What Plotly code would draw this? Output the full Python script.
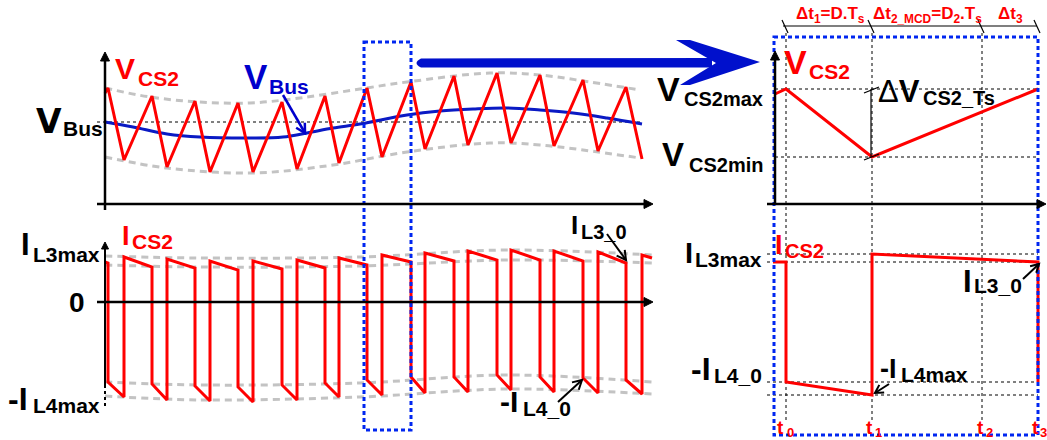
import math
import plotly.graph_objects as go

W, H = 1047, 440

# ---------------- long observation window (left panels) ----------------
# time in a.u. from the axis origin, capacitor voltage in V, current in A
t_peak   = [3, 47, 90, 133, 177, 220, 262, 306, 349, 392, 435, 478, 521]
t_valley = [19, 62, 105, 148, 192, 234, 277, 320, 363, 406, 449, 493, 537]
v_start  = 429
v_peak   = [434, 426, 421, 419, 420, 426, 434, 440, 446, 449, 447, 442, 435]
v_valley = [362, 355, 350, 350, 353, 359, 365, 373, 377, 379, 376, 371, 363]

t_bus = [0, 28, 62, 95, 148, 178, 202, 228, 255, 302, 335, 368, 402, 435, 468, 502, 537]
v_bus = [400, 395, 388, 385, 384, 385, 389, 394, 398, 407, 411, 413, 414, 412, 409, 404, 398]
v_bus_nom = 400

t_env_hi = [0, 45, 95, 145, 195, 255, 302, 385, 435, 485, 535]
v_env_hi = [434, 425, 420, 419, 424, 433, 440, 449, 447, 440, 432]
t_env_lo = [0, 62, 148, 228, 302, 385, 435, 535]
v_env_lo = [365, 354, 349, 357, 370, 379, 377, 364]

i_start    = 4.0
i_hi_end   = [3.9, 3.5, 3.4, 3.2, 3.3, 3.4, 3.7, 4.0, 4.1, 4.2, 4.2, 4.1, 3.9]
i_lo_start = [-8.0, -8.2, -8.4, -8.5, -8.3, -8.1, -7.8, -7.5, -7.5, -7.3, -7.5, -7.6, -7.8]
i_lo_end   = [-9.5, -9.8, -9.9, -10.0, -9.8, -9.5, -9.3, -9.1, -9.0, -8.8, -9.0, -9.1, -9.2]
i_hi_start = [4.5, 4.3, 4.1, 4.1, 4.2, 4.4, 4.7, 4.9, 5.1, 5.2, 5.1, 5.0, 4.7]
t_end, i_end = 547, 4.4

t_ienv    = [0, 95, 255, 402, 547]
i_env_hi1 = [4.6, 4.4, 4.5, 5.2, 4.7]
i_env_hi2 = [3.7, 3.5, 3.6, 4.2, 3.9]
i_env_lo1 = [-8.0, -8.3, -8.1, -7.3, -8.0]
i_env_lo2 = [-9.4, -9.8, -9.5, -8.7, -9.2]

# zoomed switching period
window = [259, 306]                 # one period picked out of the long window
t_marks = [0, 86, 196, 252]         # t0, t1, t2, t3
t_zoom_v = [-11, 0, 86, 252]
v_zoom   = [428, 433, 365, 433]
v_cs2_max, v_cs2_min = 433, 365
t_zoom_i = [-13, 0, 0, 86, 86, 252, 252]
i_zoom   = [4.0, 4.0, -8.0, -9.3, 4.8, 4.0, -8.0]
i_l3max, i_l3_0, i_l4_0, i_l4max = 4.8, 4.0, -8.0, -9.3

RED = "#ff0000"
BLUE_LINE = "#0a1ac4"
BLUE_TXT = "#0000cc"
BLUE_BOX = "#0026f0"
GRAY = "#c3c3c3"
ARIAL = "Liberation Sans, Arial, sans-serif"
DEJAVU = "DejaVu Sans, sans-serif"

# assemble the piecewise waveforms from the switching instants
vt, vv = [0], [v_start]
for tp, vp, tv, vl in zip(t_peak, v_peak, t_valley, v_valley):
    vt += [tp, tv]
    vv += [vp, vl]

it, iv = [0], [i_start]
for k in range(len(t_peak)):
    it += [t_peak[k], t_peak[k], t_valley[k], t_valley[k]]
    iv += [i_hi_end[k], i_lo_start[k], i_lo_end[k], i_hi_start[k]]
it.append(t_end)
iv.append(i_end)

fig = go.Figure()

def env(x, y, ya):
    fig.add_trace(go.Scatter(x=x, y=y, xaxis="x2", yaxis=ya, mode="lines",
                             line=dict(color=GRAY, width=3, dash="7px,5px", shape="spline"),
                             hoverinfo="skip"))

env(t_env_hi, v_env_hi, "y2")
env(t_env_lo, v_env_lo, "y2")
for e in (i_env_hi1, i_env_hi2, i_env_lo1, i_env_lo2):
    env(t_ienv, e, "y3")

fig.add_trace(go.Scatter(x=t_bus, y=v_bus, xaxis="x2", yaxis="y2", mode="lines",
                         line=dict(color=BLUE_LINE, width=3, shape="spline"), hoverinfo="skip"))
fig.add_trace(go.Scatter(x=vt, y=vv, xaxis="x2", yaxis="y2", mode="lines",
                         line=dict(color=RED, width=3), hoverinfo="skip"))
fig.add_trace(go.Scatter(x=it, y=iv, xaxis="x2", yaxis="y3", mode="lines",
                         line=dict(color=RED, width=3), hoverinfo="skip"))
fig.add_trace(go.Scatter(x=t_zoom_v, y=v_zoom, xaxis="x4", yaxis="y2", mode="lines",
                         line=dict(color=RED, width=3), hoverinfo="skip"))
fig.add_trace(go.Scatter(x=t_zoom_i, y=i_zoom, xaxis="x4", yaxis="y3", mode="lines",
                         line=dict(color=RED, width=3), hoverinfo="skip"))

shapes = []
DOT = dict(color="black", width=1, dash="dot")

# reference levels
shapes.append(dict(type="line", xref="x2", yref="y2", x0=-8, x1=535,
                   y0=v_bus_nom, y1=v_bus_nom, line=DOT, layer="below"))
for lv in (v_cs2_max, v_cs2_min):
    shapes.append(dict(type="line", xref="x4", yref="y2", x0=-11, x1=t_marks[3],
                       y0=lv, y1=lv, line=DOT, layer="below"))
for lv in (i_l3max, i_l3_0, i_l4_0, i_l4max):
    shapes.append(dict(type="line", xref="x4", yref="y3", x0=-19, x1=t_marks[3],
                       y0=lv, y1=lv, line=DOT, layer="below"))
for tm in t_marks[:3]:
    shapes.append(dict(type="line", xref="x4", yref="y", x0=tm, x1=tm,
                       y0=33, y1=422, line=DOT, layer="below"))

# lower part of the current axis
shapes.append(dict(type="line", xref="x", yref="y", x0=105, x1=105, y0=385, y1=408,
                   line=dict(color="black", width=2, dash="dot")))

# time-interval dimension line
shapes.append(dict(type="line", xref="x4", yref="y", x0=-3, x1=t_marks[3] - 1, y0=26, y1=26,
                   line=dict(color="black", width=1.2)))
for tm in t_marks:
    shapes.append(dict(type="line", xref="x4", yref="y", x0=tm - 4, x1=tm + 2, y0=20, y1=33,
                       line=dict(color="black", width=1.2)))

# ripple dimension
shapes.append(dict(type="line", xref="x4", yref="y2", x0=t_marks[1] - 1, x1=t_marks[1] - 1,
                   y0=v_cs2_min, y1=v_cs2_max, line=dict(color="black", width=1.2)))
for yv in (91, 158):
    shapes.append(dict(type="line", xref="x", yref="y", x0=864, x1=879, y0=yv + 2, y1=yv - 4,
                       line=dict(color="black", width=1.2)))

# selection boxes
BOX = dict(color=BLUE_BOX, width=3, dash="4px,3px")
shapes.append(dict(type="rect", xref="x2", yref="y", x0=window[0], x1=window[1],
                   y0=42, y1=430, line=BOX))
shapes.append(dict(type="rect", xref="x", yref="y", x0=774, x1=1038,
                   y0=37, y1=435, line=BOX))

# big zoom arrow
shapes.append(dict(type="path", xref="x", yref="y",
                   path="M 421,58.5 L 712,58 L 712,67.5 L 421,67.5 Q 412,63 421,58.5 Z",
                   fillcolor="#0010cc", line=dict(width=0)))
shapes.append(dict(type="path", xref="x", yref="y",
                   path="M 676,40 L 690,40 L 760,62 L 690,85 L 680,85 L 716,63 Z",
                   fillcolor="#0010cc", line=dict(width=0)))


def arrow(tip, tail, color="black", width=2.5, head=9, half=4.5, filled=True):
    """Straight arrow drawn in pixel coordinates: shaft plus filled or open head."""
    ux, uy = tip[0] - tail[0], tip[1] - tail[1]
    n = math.hypot(ux, uy)
    ux, uy = ux / n, uy / n
    bx, by = tip[0] - head * ux, tip[1] - head * uy
    px, py = -uy * half, ux * half
    end = (bx, by) if filled else tip
    shapes.append(dict(type="line", xref="x", yref="y", x0=tail[0], y0=tail[1],
                       x1=end[0], y1=end[1], line=dict(color=color, width=width)))
    if filled:
        shapes.append(dict(type="path", xref="x", yref="y",
                           path=f"M {tip[0]},{tip[1]} L {bx + px},{by + py} L {bx - px},{by - py} Z",
                           fillcolor=color, line=dict(color=color, width=1)))
    else:
        shapes.append(dict(type="path", xref="x", yref="y",
                           path=f"M {bx + px},{by + py} L {tip[0]},{tip[1]} L {bx - px},{by - py}",
                           line=dict(color=color, width=width)))


# axes
arrow((105, 52), (105, 210))
arrow((653, 204), (97, 204))
arrow((653, 302), (97, 302))
arrow((105, 242), (105, 386), width=2, head=7, half=3.5)
arrow((775, 51), (775, 204), width=2.5)
arrow((1046, 204), (767, 204))

# pointer arrows
arrow((305, 133), (283, 95), color=BLUE_TXT, width=2.5, head=9, half=5, filled=False)
arrow((626, 260), (607, 234), width=2, head=9, half=5, filled=False)
arrow((582, 380), (558, 402), width=2, head=9, half=5, filled=False)
arrow((1039, 264), (1023, 279), width=2, head=8, half=4.5, filled=False)
arrow((875, 393), (889, 384), width=2, head=8, half=4.5, filled=False)

anns = []

def txt(x, y, s, size, color="black", family=ARIAL, xanchor="left", bold=True):
    anns.append(dict(x=x, y=y, xref="x", yref="y", text=f"<b>{s}</b>" if bold else s,
                     showarrow=False, xanchor=xanchor, yanchor="middle", borderpad=0,
                     font=dict(size=size, color=color, family=family)))

def label(x, y, main, size, xs, ys, sub, ssize, color="black", family=ARIAL):
    txt(x, y, main, size, color, family)
    txt(xs, ys, sub, ssize, color)

# left panels
label(114, 68.5, "V", 30, 137, 78, "CS2", 21, RED)
label(243, 76, "V", 35, 268, 86.5, "Bus", 21, BLUE_TXT)
label(35, 121, "V", 33, 62, 128.5, "Bus", 21, "black", DEJAVU)
label(121, 236, "I", 27, 131, 241.5, "CS2", 21, RED)
label(20, 244, "I", 31, 32, 254, "L3max", 21)
txt(68, 302, "0", 28)
label(7, 398.5, "-I", 32, 32, 405.5, "L4max", 21)
label(570, 225, "I", 26, 580, 231.5, "L3_0", 20)
label(499, 401, "-I", 30, 522, 408, "L4_0", 21)

# zoomed panels
label(656, 88.5, "V", 34, 683, 99, "CS2max", 20)
label(661, 154, "V", 33, 688, 165, "CS2min", 20)
label(783, 62, "V", 34, 808, 71.5, "CS2", 21, RED)
anns.append(dict(x=877, y=91, xref="x", yref="y", text="Δ<b>V</b>", showarrow=False,
                 xanchor="left", yanchor="middle", borderpad=0,
                 font=dict(size=31, color="black", family=ARIAL)))
txt(922, 97.5, "CS2_Ts", 20)
label(774, 245, "I", 27, 784, 251, "CS2", 20, RED)
label(684, 253, "I", 29, 694, 259, "L3max", 21)
label(962, 281, "I", 31, 973, 285.5, "L3_0", 21)
label(690, 368.5, "-I", 32, 713, 375, "L4_0", 21)
label(879, 368.5, "-I", 27, 900, 374, "L4max", 21)

for tx, sx, s in ((776, 786, "0"), (865, 874, "1"), (976, 985, "2"), (1031, 1039, "3")):
    label(tx, 427, "t", 19, sx, 432, s, 13, RED)

txt(830, 15, "Δt<sub>1</sub>=D.T<sub>s</sub>", 17, RED, xanchor="center")
txt(927, 15, "Δt<sub>2_MCD</sub>=D<sub>2</sub>.T<sub>s</sub>", 17, RED, xanchor="center")
txt(1010, 15, "Δt<sub>3</sub>", 17, RED, xanchor="center")

hidden = dict(visible=False, fixedrange=True)
fig.update_layout(
    width=W, height=H, margin=dict(l=0, r=0, t=0, b=0),
    paper_bgcolor="white", plot_bgcolor="rgba(0,0,0,0)",
    showlegend=False,
    xaxis=dict(range=[0, W], domain=[0, 1], **hidden),
    yaxis=dict(range=[H, 0], domain=[0, 1], **hidden),
    xaxis2=dict(range=[-105, W - 105], overlaying="x", **hidden),
    xaxis4=dict(range=[-786, W - 786], overlaying="x", **hidden),
    yaxis2=dict(range=[522 - H, 522], overlaying="y", **hidden),
    yaxis3=dict(range=[(302 - H) / 10, 30.2], overlaying="y", **hidden),
    shapes=shapes, annotations=anns,
)

fig.write_html("out.html")
